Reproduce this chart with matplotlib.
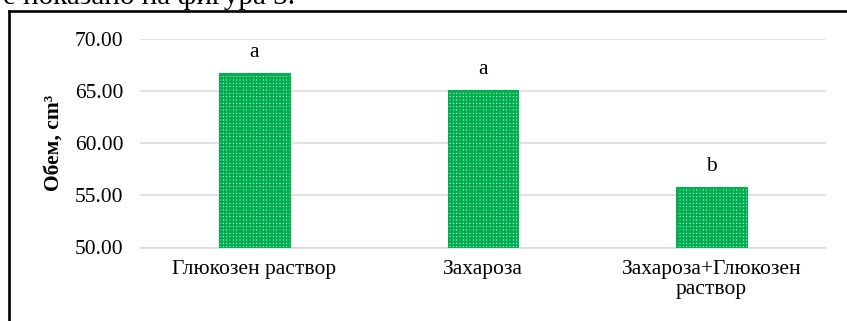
import matplotlib
matplotlib.use("Agg")
import matplotlib.pyplot as plt
from matplotlib.lines import Line2D

categories = ["Глюкозен раствор", "Захароза", "Захароза+Глюкозен\nраствор"]
values = [66.75, 65.1, 55.8]
letters = ["a", "a", "b"]
yticks = [50, 55, 60, 65, 70]

plt.rcParams['font.family'] = ['Liberation Serif', 'DejaVu Serif']
plt.rcParams['hatch.linewidth'] = 1.6

W, H = 847, 321
fig = plt.figure(figsize=(W / 100, H / 100), dpi=100)
ax = fig.add_axes([140 / W, 1 - 247.5 / H, 686 / W, (247.5 - 39) / H])

green = '#00B050'
x = list(range(len(categories)))
ax.bar(x, [v - 50 for v in values], bottom=50, width=0.31,
       facecolor='white', edgecolor=green, hatch='+++++', linewidth=0.8, zorder=3)

for xi, v, l in zip(x, values, letters):
    ax.annotate(l, (xi, v), xytext=(0, 11.5), textcoords='offset points',
                ha='center', va='baseline', fontsize=15.5, color='#000000')

ax.set_xlim(-0.5, 2.5)
ax.set_ylim(50, 70)
ax.set_yticks(yticks)
ax.set_yticklabels([f"{t:.2f}" for t in yticks], fontsize=15.5)
ax.set_xticks(x)
ax.set_xticklabels(categories, fontsize=15.5, linespacing=1.1)
ax.tick_params(axis='both', length=0)
ax.tick_params(axis='y', pad=12)
ax.tick_params(axis='x', pad=9)
ax.grid(axis='y', color='#D9D9D9', linewidth=1.1, zorder=0)
for s in ['top', 'right', 'left']:
    ax.spines[s].set_visible(False)
ax.spines['bottom'].set_color('#D9D9D9')
ax.spines['bottom'].set_linewidth(1.1)

ax.set_ylabel("Обем, cm³", fontsize=15.5, fontweight='bold')
ax.yaxis.set_label_coords((64 - 140) / 686, 0.5)

# surrounding frame from the document
yb = 1 - 10.5 / H
xb = 8.5 / W
fig.add_artist(Line2D([xb, 1.0], [yb, yb], color='black', linewidth=1.9, transform=fig.transFigure))
fig.add_artist(Line2D([xb, xb], [0.0, yb], color='black', linewidth=1.9, transform=fig.transFigure))

fig.text(3 / W, 1 - 4 / H, "е показано на фигура 3.", fontsize=21, ha='left', va='baseline')

fig.savefig("out.png", dpi=100)
